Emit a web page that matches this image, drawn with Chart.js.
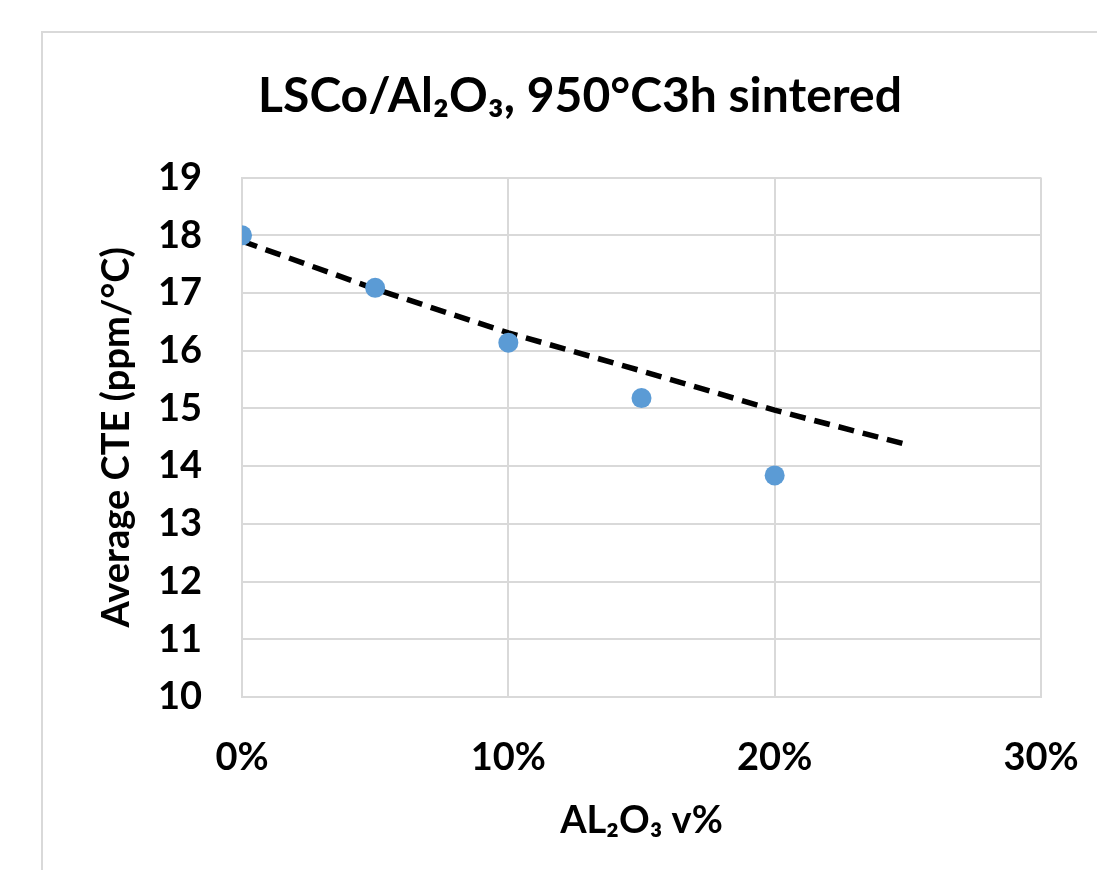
<!DOCTYPE html>
<html>
<head>
<meta charset="utf-8">
<script src="https://cdn.jsdelivr.net/npm/chart.js@4.4.1/dist/chart.umd.min.js"></script>
<style>
  html, body { margin: 0; padding: 0; background: #ffffff; overflow: hidden; }
  #wrap { position: relative; width: 1097px; height: 870px; overflow: hidden; }
  #frame { position: absolute; left: 41px; top: 31px; width: 1200px; height: 1000px; border: 2px solid #d9d9d9; box-sizing: border-box; }
  #c { position: absolute; left: 0; top: 0; }
</style>
</head>
<body>
<div id="wrap">
  <div id="frame"></div>
  <canvas id="c" width="1160" height="870"></canvas>
</div>
<script>
// ---- data ----
const aluminaFraction = [0, 0.05, 0.10, 0.15, 0.20];
const averageCTE = [18.0, 17.09, 16.14, 15.18, 13.84];
const trendFraction = [0, 0.05, 0.10, 0.15, 0.20, 0.25];
const trendCTE = [17.9, 17.07, 16.31, 15.65, 14.97, 14.37];
const chartTitle = 'LSCo/Al\u2082O\u2083, 950\u00B0C3h sintered';
const xAxisTitle = 'AL\u2082O\u2083 v%';
const yAxisTitle = 'Average CTE (ppm/\u00B0C)';

const FONT = 'Lato, "Noto Sans", "DejaVu Sans", sans-serif';

const pointsData = aluminaFraction.map((x, i) => ({ x: x, y: averageCTE[i] }));
const trendData = trendFraction.map((x, i) => ({ x: x, y: trendCTE[i] }));

new Chart(document.getElementById('c'), {
  type: 'scatter',
  data: {
    datasets: [
      {
        label: 'CTE',
        data: pointsData,
        backgroundColor: '#5b9bd5',
        borderColor: '#5b9bd5',
        pointRadius: 10,
        pointHoverRadius: 10,
        borderWidth: 0,
        order: 0
      },
      {
        label: 'Trend',
        data: trendData,
        showLine: true,
        borderColor: '#000000',
        borderWidth: 5.5,
        borderDash: [16, 9],
        borderCapStyle: 'butt',
        pointRadius: 0,
        pointHoverRadius: 0,
        fill: false,
        order: 1
      }
    ]
  },
  options: {
    responsive: false,
    animation: false,
    devicePixelRatio: 1,
    layout: { padding: { left: 0, right: 0, top: 0, bottom: 0 } },
    plugins: {
      legend: { display: false },
      tooltip: { enabled: false },
      title: {
        display: true,
        text: chartTitle,
        color: '#000000',
        font: { family: FONT, size: 48, weight: 'bold', lineHeight: 1.2 },
        padding: { top: 68, bottom: 52 }
      }
    },
    scales: {
      x: {
        type: 'linear',
        position: 'bottom',
        min: 0,
        max: 0.3,
        ticks: {
          stepSize: 0.1,
          color: '#000000',
          padding: 38,
          font: { family: FONT, size: 38, weight: 'bold' },
          callback: (v) => Math.round(v * 100) + '%'
        },
        grid: { color: '#d9d9d9', lineWidth: 2, drawTicks: false },
        border: { color: '#d9d9d9', width: 2 },
        title: {
          display: true,
          text: xAxisTitle,
          color: '#000000',
          font: { family: FONT, size: 38, weight: 'bold', lineHeight: 1.2 },
          padding: { top: 0, bottom: 26 }
        },
        afterFit: (s) => { s.height = 173; }
      },
      y: {
        type: 'linear',
        position: 'left',
        min: 10,
        max: 19,
        ticks: {
          stepSize: 1,
          color: '#000000',
          padding: 40,
          font: { family: FONT, size: 38, weight: 'bold' }
        },
        grid: { color: '#d9d9d9', lineWidth: 2, drawTicks: false },
        border: { color: '#d9d9d9', width: 2 },
        title: {
          display: true,
          text: yAxisTitle,
          color: '#000000',
          font: { family: FONT, size: 38, weight: 'bold', lineHeight: 1.2 },
          padding: { top: 94, bottom: 0 }
        },
        afterFit: (s) => { s.width = 242; }
      },
      y2: {
        type: 'linear',
        position: 'right',
        display: true,
        min: 10,
        max: 19,
        grid: { display: false, drawTicks: false },
        border: { display: false },
        ticks: { display: false },
        afterFit: (s) => { s.width = 119; }
      }
    }
  }
});
</script>
</body>
</html>
